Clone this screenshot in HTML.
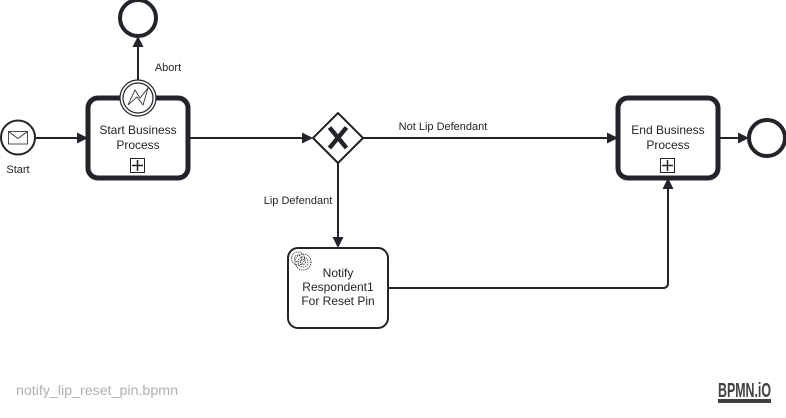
<!DOCTYPE html>
<html>
<head>
<meta charset="utf-8">
<style>
html,body{margin:0;padding:0;background:#fff;width:786px;height:418px;overflow:hidden}
svg{display:block}
text{font-family:"Liberation Sans",Arial,sans-serif;fill:#22242a}
.t{font-size:12px;text-anchor:middle}
.l{font-size:11px;text-anchor:middle}
.c{fill:none;stroke:#22242a;stroke-width:2}
.a{fill:#22242a;stroke:none}
</style>
</head>
<body>
<svg width="786" height="418" viewBox="0 0 786 418" xmlns="http://www.w3.org/2000/svg">
<!-- connectors -->
<path class="c" d="M36 138H80"/><path class="a" d="M88 138l-11-5.500v11z"/>
<path class="c" d="M138 80V46"/><path class="a" d="M138 36l-5.500 11h11z"/>
<path class="c" d="M188 138H306"/><path class="a" d="M313 138l-11-5.500v11z"/>
<path class="c" d="M363 138H610"/><path class="a" d="M618 138l-11-5.500v11z"/>
<path class="c" d="M338 163V240"/><path class="a" d="M338 248l-5.500-11h11z"/>
<path class="c" d="M388 288H663q5 0 5-5V188"/><path class="a" d="M668 178l-5.500 11h11z"/>
<path class="c" d="M718 138H740"/><path class="a" d="M749 138l-11-5.500v11z"/>

<!-- start event -->
<circle cx="18" cy="137.500" r="17" fill="#fff" stroke="#22242a" stroke-width="2"/>
<rect x="8.500" y="131.500" width="19" height="12.500" fill="#fff" stroke="#22242a" stroke-width="0.800"/>
<path d="M8.500 131.500L18 138.500L27.500 131.500" fill="none" stroke="#22242a" stroke-width="0.800"/>
<text class="l" x="18" y="173">Start</text>

<!-- start sub process -->
<rect x="88" y="98" width="100" height="80" rx="10" fill="#fff" stroke="#22242a" stroke-width="5"/>
<text class="t" x="138" y="134">Start Business</text>
<text class="t" x="138" y="149">Process</text>
<rect x="130.500" y="158.500" width="14" height="14" fill="#fff" stroke="#22242a" stroke-width="1"/>
<path d="M137.500 160V171M132 165.500H143" stroke="#22242a" stroke-width="1.500" fill="none"/>

<!-- boundary event -->
<circle cx="138" cy="98" r="18" fill="#fff" stroke="#22242a" stroke-width="1.200"/>
<circle cx="138" cy="98" r="15" fill="#fff" stroke="#22242a" stroke-width="1.200"/>
<path d="M128 105L135 90L140 98L148 88L143 105L137 97Z" fill="#fff" stroke="#22242a" stroke-width="0.800"/>

<!-- top end event -->
<circle cx="138" cy="18" r="18" fill="#fff" stroke="#22242a" stroke-width="4"/>
<text class="l" x="168" y="71">Abort</text>

<!-- gateway -->
<path d="M338 113L363 138L338 163L313 138Z" fill="#fff" stroke="#22242a" stroke-width="2" stroke-linejoin="round"/>
<path d="M329.500 127.500L346.500 148M346.500 127.500L329.500 148" stroke="#22242a" stroke-width="4.500" fill="none"/>
<text class="l" x="443" y="130">Not Lip Defendant</text>
<text class="l" x="298" y="204">Lip Defendant</text>

<!-- service task -->
<rect x="288" y="248" width="100" height="80" rx="10" fill="#fff" stroke="#22242a" stroke-width="2"/>
<g fill="none" stroke="#22242a" stroke-width="0.800" stroke-dasharray="1.300 0.900">
<circle cx="298" cy="258.500" r="6.500"/><circle cx="298" cy="258.500" r="3.500"/>
<circle cx="303" cy="262" r="8"/><circle cx="303" cy="262" r="5"/><circle cx="303" cy="262" r="2.500"/>
</g>
<text class="t" x="338" y="277">Notify</text>
<text class="t" x="338" y="291">Respondent1</text>
<text class="t" x="338" y="305">For Reset Pin</text>

<!-- end sub process -->
<rect x="618" y="98" width="100" height="80" rx="10" fill="#fff" stroke="#22242a" stroke-width="5"/>
<text class="t" x="668" y="134">End Business</text>
<text class="t" x="668" y="149">Process</text>
<rect x="660.500" y="158.500" width="14" height="14" fill="#fff" stroke="#22242a" stroke-width="1"/>
<path d="M667.500 160V171M662 165.500H673" stroke="#22242a" stroke-width="1.500" fill="none"/>

<!-- end event -->
<circle cx="767" cy="138" r="18" fill="#fff" stroke="#22242a" stroke-width="4"/>

<!-- footer -->
<text x="16" y="395" font-size="13.500" style="fill:#b0b0b0" textLength="162" lengthAdjust="spacingAndGlyphs">notify_lip_reset_pin.bpmn</text>
<text x="718" y="397" font-size="20" font-weight="bold" style="fill:#404040" textLength="53" lengthAdjust="spacingAndGlyphs">BPMN.iO</text>
<rect x="718" y="399" width="53" height="4" fill="#404040"/>
</svg>
</body>
</html>
